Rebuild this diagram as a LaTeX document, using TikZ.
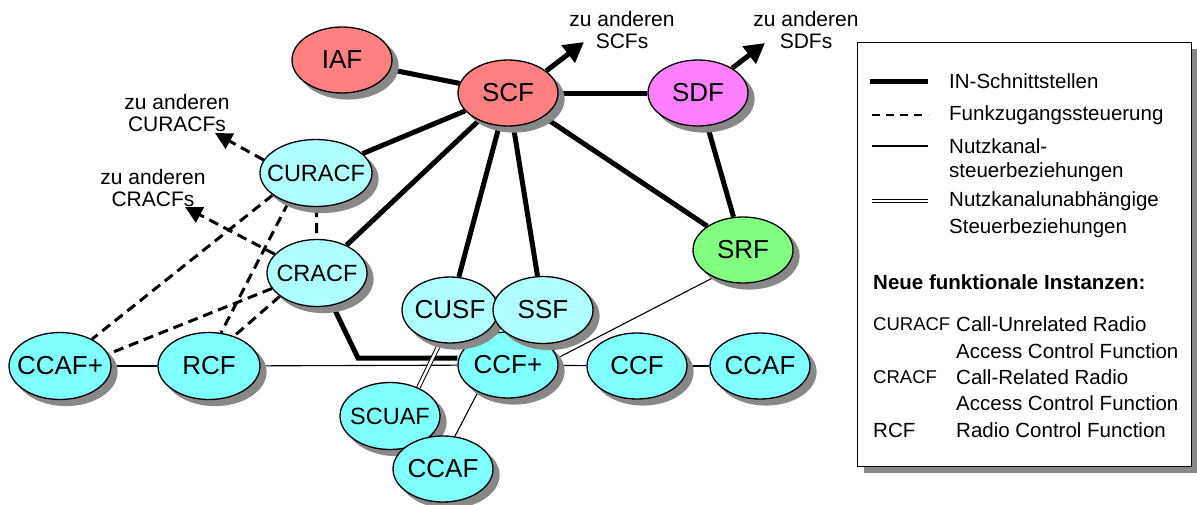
\documentclass[tikz,border=0pt]{standalone}
\usepackage{fontspec}
\setmainfont{Liberation Sans}
\usetikzlibrary{shapes.geometric,arrows.meta,backgrounds}
\definecolor{salmonR}{HTML}{FF8080}
\definecolor{magentaL}{HTML}{FF80FF}
\definecolor{greenL}{HTML}{80FF80}
\definecolor{cyanL}{HTML}{B0FFFF}
\definecolor{cyanD}{HTML}{80FFFF}
\definecolor{shadowgray}{HTML}{888888}
\begin{document}
\begin{tikzpicture}[x=1pt,y=1pt,
  ell/.style={ellipse, minimum width=100pt, minimum height=66pt, inner sep=0pt},
  fn/.style={ell, draw=black, line width=1.3pt, font=\fontsize{26pt}{28pt}\selectfont},
  fnsmall/.style={fn, font=\fontsize{23.5pt}{26pt}\selectfont},
  shadowfill/.style={fill=shadowgray},
  inline/.style={line width=5pt},
  radioline/.style={line width=3pt, dash pattern=on 10pt off 6pt},
  thinline/.style={line width=1.1pt},
  dblline/.style={double, line width=1pt, double distance=2.5pt},
  bigtip/.style={-{Triangle[length=20pt,width=21pt]}},
  dashtip/.style={-{Triangle[length=17pt,width=17pt]}},
  lbl/.style={font=\fontsize{21pt}{22pt}\selectfont, align=center, inner sep=0pt},
  lgtext/.style={font=\fontsize{20.5pt}{26.5pt}\selectfont, anchor=west, inner sep=0pt},
  lgabbr/.style={font=\fontsize{18.5pt}{22pt}\selectfont, anchor=west, inner sep=0pt},
  wide/.style={minimum width=112pt, minimum height=67pt},
  tall/.style={minimum height=67pt},
  narrow/.style={minimum width=96pt},
  wideb/.style={minimum width=102pt, minimum height=67pt},
]
\useasboundingbox (0,0) rectangle (1197,-504);

% nodes, each preceded by its drop shadow (6pt right, 6pt down)
\fill[shadowfill] (348,-66) ellipse [x radius=50.6, y radius=33.6];
\node[fn, fill=salmonR] (iaf) at (342,-60) {\makebox[0pt]{IAF}};
\fill[shadowfill] (514,-99) ellipse [x radius=50.6, y radius=33.6];
\node[fn, fill=salmonR] (scf) at (508,-93) {\makebox[0pt]{SCF}};
\fill[shadowfill] (704,-99) ellipse [x radius=50.6, y radius=33.6];
\node[fn, fill=magentaL] (sdf) at (698,-93) {\makebox[0pt]{SDF}};
\fill[shadowfill] (749,-256) ellipse [x radius=50.6, y radius=33.6];
\node[fn, fill=greenL] (srf) at (743,-250) {\makebox[0pt]{SRF}};
\fill[shadowfill] (322,-179) ellipse [x radius=56.6, y radius=34.1];
\node[fnsmall, fill=cyanL, wide] (curacf) at (316,-173) {\makebox[0pt]{CURACF}};
\fill[shadowfill] (323,-279) ellipse [x radius=50.6, y radius=34.1];
\node[fnsmall, fill=cyanL, tall] (cracf) at (317,-273) {\makebox[0pt]{CRACF}};
\fill[shadowfill] (514,-371) ellipse [x radius=50.6, y radius=33.6];
\node[fn, fill=cyanD] (ccfp) at (508,-365) {\makebox[0pt]{CCF+}};
\fill[shadowfill] (456,-316) ellipse [x radius=48.6, y radius=33.6];
\node[fn, fill=cyanL, narrow] (cusf) at (450,-310) {\makebox[0pt]{CUSF}};
\fill[shadowfill] (549,-316) ellipse [x radius=50.6, y radius=34.1];
\node[fn, fill=cyanL, tall] (ssf) at (543,-310) {\makebox[0pt]{SSF}};
\fill[shadowfill] (643,-372) ellipse [x radius=50.6, y radius=33.6];
\node[fn, fill=cyanD] (ccf) at (637,-366) {\makebox[0pt]{CCF}};
\fill[shadowfill] (766,-372) ellipse [x radius=50.6, y radius=33.6];
\node[fn, fill=cyanD] (ccafr) at (760,-366) {\makebox[0pt]{CCAF}};
\fill[shadowfill] (396,-422) ellipse [x radius=50.6, y radius=34.1];
\node[fnsmall, fill=cyanD, tall] (scuaf) at (390,-416) {\makebox[0pt]{SCUAF}};
\fill[shadowfill] (449,-475) ellipse [x radius=50.6, y radius=33.6];
\node[fn, fill=cyanD] (ccafb) at (443,-469) {\makebox[0pt]{CCAF}};
\fill[shadowfill] (66,-372) ellipse [x radius=51.6, y radius=34.1];
\node[fn, fill=cyanD, wideb] (ccafp) at (60,-366) {\makebox[0pt]{CCAF+}};
\fill[shadowfill] (215,-372) ellipse [x radius=51.6, y radius=34.1];
\node[fn, fill=cyanD, wideb] (rcf) at (209,-366) {\makebox[0pt]{RCF}};

% labels
\node[lbl] (lscf) at (622,-30) {zu anderen\\SCFs};
\node[lbl] (lsdf) at (806,-30) {zu anderen\\SDFs};
\node[lbl] (lcuracf) at (177,-113) {zu anderen\\CURACFs};
\node[lbl] (lcracf) at (153,-188) {zu anderen\\CRACFs};

\coordinate (tscf) at (584,-42);
\coordinate (tsdf) at (765,-43);
\coordinate (tcuracf) at (215,-133);
\coordinate (tcracf) at (185,-207);
\coordinate (bend) at (358,-358);

\begin{pgfonlayer}{background}
% IN interfaces
\draw[inline] (iaf) -- (scf);
\draw[inline] (scf) -- (sdf);
\draw[inline] (scf) -- (curacf);
\draw[inline] (scf) -- (cracf);
\draw[inline] (scf) -- (cusf);
\draw[inline] (scf) -- (ssf);
\draw[inline] (scf) -- (srf);
\draw[inline] (sdf) -- (srf);
\draw[inline, line join=miter] (cracf) -- (bend) -- (bend -| ccfp.west);
\draw[inline, bigtip] (scf.30) -- (tscf);
\draw[inline, bigtip] (sdf.36) -- (tsdf);
% radio access control
\draw[radioline, dashtip] (curacf.166) -- (tcuracf);
\draw[radioline, dashtip] (cracf.156) -- (tcracf);
\draw[radioline] (curacf) -- (cracf);
\draw[radioline] (curacf.207) -- (ccafp.40);
\draw[radioline] (curacf.227) -- (rcf.70);
\draw[radioline] (cracf.199) -- (ccafp.14);
\draw[radioline] (cracf.212) -- (rcf.50);
% bearer control
\draw[thinline] (ccafp) -- (rcf);
\draw[thinline] (rcf) -- (ccfp);
\draw[thinline] (ccfp) -- (ccf);
\draw[thinline] (ccf) -- (ccafr);
\draw[thinline] (srf.223) -- (ccfp.8);
\draw[thinline] (ccfp.222) -- (ccafb.70);
% bearer independent
\draw[dblline] (cusf.253) -- (scuaf.45);
\end{pgfonlayer}

% legend
\fill[shadowfill] (864,-49) rectangle (1198,-473);
\node[rectangle, draw, line width=1.3pt, fill=white, minimum width=334pt, minimum height=424pt,
  inner sep=0pt, anchor=north west] (legend) at (857,-42) {};
\coordinate (l1a) at (870,-81);  \coordinate (l1b) at (928,-81);
\coordinate (l2a) at (872,-115); \coordinate (l2b) at (928,-115);
\coordinate (l3a) at (872,-146); \coordinate (l3b) at (928,-146);
\coordinate (l4a) at (872,-201); \coordinate (l4b) at (928,-201);
\draw[inline] (l1a) -- (l1b);
\draw[line width=2.2pt, dash pattern=on 8pt off 6pt] (l2a) -- (l2b);
\draw[thinline] (l3a) -- (l3b);
\draw[dblline, line width=0.9pt, double distance=2.2pt] (l4a) -- (l4b);
\node[lgtext] (t1) at (949,-81) {IN-Schnittstellen};
\node[lgtext] (t2) at (949,-115) {Funkzugangssteuerung};
\node[lgtext] (t3) at (949,-146) {Nutzkanal-};
\node[lgtext] (t3b) at (949,-172) {steuerbeziehungen};
\node[lgtext] (t4) at (949,-201) {Nutzkanalunabhängige};
\node[lgtext] (t4b) at (949,-228) {Steuerbeziehungen};
\node[lgtext, font=\fontsize{20.5pt}{24pt}\selectfont\bfseries] (t5) at (873,-282) {Neue funktionale Instanzen:};
\node[lgabbr] (a1) at (873,-324) {CURACF};
\node[lgtext] (d1) at (956,-324) {Call-Unrelated Radio};
\node[lgtext] (d1b) at (956,-351) {Access Control Function};
\node[lgabbr] (a2) at (873,-377) {CRACF};
\node[lgtext] (d2) at (956,-377) {Call-Related Radio};
\node[lgtext] (d2b) at (956,-403) {Access Control Function};
\node[lgtext] (a3) at (873,-430) {RCF};
\node[lgtext] (d3) at (956,-430) {Radio Control Function};
\end{tikzpicture}
\end{document}
